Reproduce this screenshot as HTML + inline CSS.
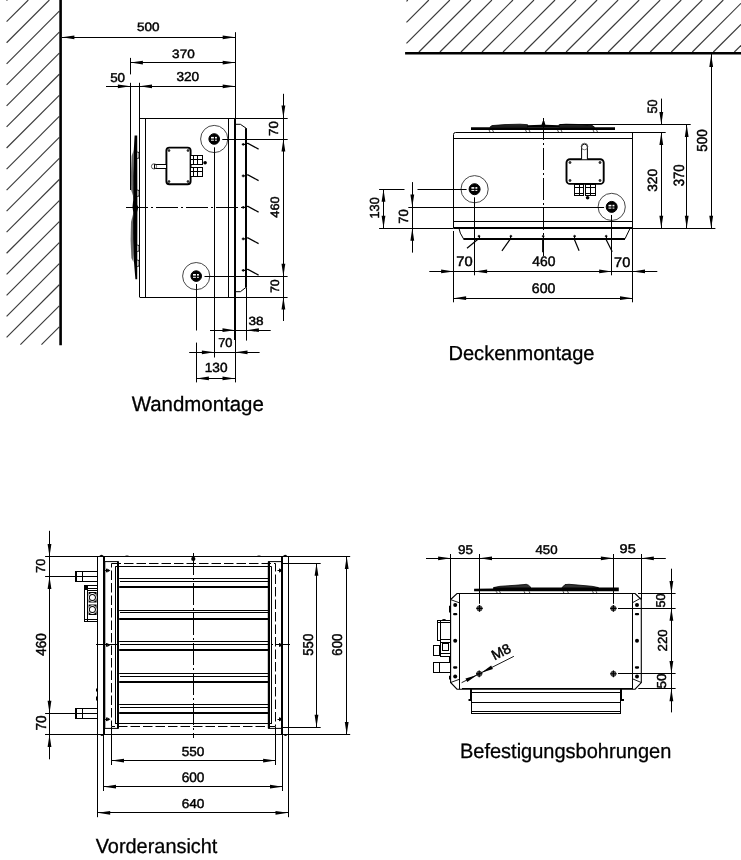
<!DOCTYPE html>
<html><head><meta charset="utf-8"><style>
html,body{margin:0;padding:0;background:#fff;}
svg{display:block;filter:grayscale(1);}
text{font-family:"Liberation Sans",sans-serif;text-rendering:geometricPrecision;}
</style></head><body>
<svg width="741" height="860" viewBox="0 0 741 860">
<rect width="741" height="860" fill="#fff"/>
<line x1="6.60" y1="0.65" x2="7.25" y2="0.00" stroke="#3a3a3a" stroke-width="1.15"/>
<line x1="6.60" y1="21.70" x2="28.30" y2="0.00" stroke="#3a3a3a" stroke-width="1.15"/>
<line x1="6.60" y1="42.75" x2="49.35" y2="0.00" stroke="#3a3a3a" stroke-width="1.15"/>
<line x1="6.60" y1="63.80" x2="59.30" y2="11.10" stroke="#3a3a3a" stroke-width="1.15"/>
<line x1="6.60" y1="84.85" x2="59.30" y2="32.15" stroke="#3a3a3a" stroke-width="1.15"/>
<line x1="6.60" y1="105.90" x2="59.30" y2="53.20" stroke="#3a3a3a" stroke-width="1.15"/>
<line x1="6.60" y1="126.95" x2="59.30" y2="74.25" stroke="#3a3a3a" stroke-width="1.15"/>
<line x1="6.60" y1="148.00" x2="59.30" y2="95.30" stroke="#3a3a3a" stroke-width="1.15"/>
<line x1="6.60" y1="169.05" x2="59.30" y2="116.35" stroke="#3a3a3a" stroke-width="1.15"/>
<line x1="6.60" y1="190.10" x2="59.30" y2="137.40" stroke="#3a3a3a" stroke-width="1.15"/>
<line x1="6.60" y1="211.15" x2="59.30" y2="158.45" stroke="#3a3a3a" stroke-width="1.15"/>
<line x1="6.60" y1="232.20" x2="59.30" y2="179.50" stroke="#3a3a3a" stroke-width="1.15"/>
<line x1="6.60" y1="253.25" x2="59.30" y2="200.55" stroke="#3a3a3a" stroke-width="1.15"/>
<line x1="6.60" y1="274.30" x2="59.30" y2="221.60" stroke="#3a3a3a" stroke-width="1.15"/>
<line x1="6.60" y1="295.35" x2="59.30" y2="242.65" stroke="#3a3a3a" stroke-width="1.15"/>
<line x1="6.60" y1="316.40" x2="59.30" y2="263.70" stroke="#3a3a3a" stroke-width="1.15"/>
<line x1="6.60" y1="337.45" x2="59.30" y2="284.75" stroke="#3a3a3a" stroke-width="1.15"/>
<line x1="20.40" y1="344.70" x2="59.30" y2="305.80" stroke="#3a3a3a" stroke-width="1.15"/>
<line x1="41.45" y1="344.70" x2="59.30" y2="326.85" stroke="#3a3a3a" stroke-width="1.15"/>
<line x1="60.60" y1="0.00" x2="60.60" y2="345.20" stroke="#000" stroke-width="2.6"/>
<line x1="61.90" y1="37.50" x2="235.20" y2="37.50" stroke="#000" stroke-width="1"/>
<path d="M61.90,37.30 L74.40,35.40 L74.40,39.20Z" fill="#000"/>
<path d="M235.20,37.30 L222.70,35.40 L222.70,39.20Z" fill="#000"/>
<text transform="translate(137.10,31.48) scale(1.1095,1)" font-size="12.16" fill="#000" stroke="#000" stroke-width="0.450">500</text>
<line x1="130.40" y1="62.50" x2="235.20" y2="62.50" stroke="#000" stroke-width="1"/>
<path d="M130.40,62.60 L142.90,60.70 L142.90,64.50Z" fill="#000"/>
<path d="M235.20,62.60 L222.70,60.70 L222.70,64.50Z" fill="#000"/>
<text transform="translate(172.11,57.50) scale(1.1201,1)" font-size="12.08" fill="#000" stroke="#000" stroke-width="0.450">370</text>
<line x1="106.00" y1="86.50" x2="235.20" y2="86.50" stroke="#000" stroke-width="1"/>
<path d="M130.40,86.30 L117.90,84.40 L117.90,88.20Z" fill="#000"/>
<path d="M139.50,86.30 L152.00,84.40 L152.00,88.20Z" fill="#000"/>
<path d="M235.20,86.30 L222.70,84.40 L222.70,88.20Z" fill="#000"/>
<text transform="translate(176.45,81.41) scale(1.0487,1)" font-size="13.00" fill="#000" stroke="#000" stroke-width="0.450">320</text>
<text transform="translate(110.13,81.85) scale(1.0452,1)" font-size="12.83" fill="#000" stroke="#000" stroke-width="0.450">50</text>
<line x1="139.50" y1="82.80" x2="139.50" y2="297.00" stroke="#000" stroke-width="1"/>
<line x1="235.50" y1="32.20" x2="235.50" y2="118.10" stroke="#000" stroke-width="1"/>
<line x1="139.60" y1="118.50" x2="287.70" y2="118.50" stroke="#000" stroke-width="1"/>
<line x1="139.60" y1="297.50" x2="287.60" y2="297.50" stroke="#000" stroke-width="1"/>
<line x1="145.50" y1="118.10" x2="145.50" y2="297.00" stroke="#000" stroke-width="1"/>
<line x1="228.50" y1="118.10" x2="228.50" y2="297.00" stroke="#000" stroke-width="1"/>
<line x1="235.00" y1="118.10" x2="235.00" y2="340.00" stroke="#000" stroke-width="2"/>
<line x1="235.50" y1="340.00" x2="235.50" y2="382.40" stroke="#000" stroke-width="1"/>
<path d="M235,124.3 L240.4,124.3 L246.1,128.2 L246.1,287.3 L240.4,291.7 L235,291.7" fill="none" stroke="#000" stroke-width="1.0"/>
<line x1="246.00" y1="128.20" x2="246.00" y2="287.30" stroke="#000" stroke-width="2"/>
<line x1="246.50" y1="287.30" x2="246.50" y2="340.60" stroke="#000" stroke-width="1"/>
<path d="M241.8,144.4 L246,144.4 M243.2,143.0 L243.2,145.8" fill="none" stroke="#000" stroke-width="1.1"/>
<path d="M246,143.5 L248,143.4 L258.6,149.1" fill="none" stroke="#000" stroke-width="1.2"/>
<path d="M241.8,175.9 L246,175.9 M243.2,174.5 L243.2,177.3" fill="none" stroke="#000" stroke-width="1.1"/>
<path d="M246,175.0 L248,174.9 L258.6,180.6" fill="none" stroke="#000" stroke-width="1.2"/>
<path d="M241.8,207.4 L246,207.4 M243.2,206.0 L243.2,208.8" fill="none" stroke="#000" stroke-width="1.1"/>
<path d="M246,206.5 L248,206.4 L258.6,212.1" fill="none" stroke="#000" stroke-width="1.2"/>
<path d="M241.8,238.9 L246,238.9 M243.2,237.5 L243.2,240.3" fill="none" stroke="#000" stroke-width="1.1"/>
<path d="M246,238.0 L248,237.9 L258.6,243.6" fill="none" stroke="#000" stroke-width="1.2"/>
<path d="M241.8,270.4 L246,270.4 M243.2,269.0 L243.2,271.79999999999995" fill="none" stroke="#000" stroke-width="1.1"/>
<path d="M246,269.5 L248,269.4 L258.6,275.09999999999997" fill="none" stroke="#000" stroke-width="1.2"/>
<line x1="126.00" y1="207.50" x2="245.50" y2="207.50" stroke="#000" stroke-width="1" stroke-dasharray="22 3 2 3"/>
<circle cx="214.20" cy="139.00" r="13.60" fill="none" stroke="#333" stroke-width="0.9"/>
<circle cx="214.20" cy="139.00" r="5.30" fill="#000" stroke="#000" stroke-width="1"/>
<rect x="211.00" y="136.90" width="2.90" height="1.60" rx="0" fill="#fff" stroke="none" stroke-width="0"/>
<rect x="215.00" y="136.90" width="1.90" height="1.60" rx="0" fill="#fff" stroke="none" stroke-width="0"/>
<rect x="211.00" y="139.70" width="2.90" height="1.00" rx="0" fill="#fff" stroke="none" stroke-width="0"/>
<rect x="215.00" y="139.70" width="1.90" height="1.00" rx="0" fill="#fff" stroke="none" stroke-width="0"/>
<circle cx="196.20" cy="276.10" r="13.60" fill="none" stroke="#333" stroke-width="0.9"/>
<circle cx="196.20" cy="276.10" r="5.30" fill="#000" stroke="#000" stroke-width="1"/>
<rect x="193.00" y="274.00" width="2.90" height="1.60" rx="0" fill="#fff" stroke="none" stroke-width="0"/>
<rect x="197.00" y="274.00" width="1.90" height="1.60" rx="0" fill="#fff" stroke="none" stroke-width="0"/>
<rect x="193.00" y="276.80" width="2.90" height="1.00" rx="0" fill="#fff" stroke="none" stroke-width="0"/>
<rect x="197.00" y="276.80" width="1.90" height="1.00" rx="0" fill="#fff" stroke="none" stroke-width="0"/>
<line x1="222.30" y1="139.50" x2="287.70" y2="139.50" stroke="#000" stroke-width="1"/>
<line x1="204.50" y1="276.50" x2="287.60" y2="276.50" stroke="#000" stroke-width="1"/>
<line x1="214.50" y1="147.30" x2="214.50" y2="357.50" stroke="#000" stroke-width="1"/>
<line x1="196.50" y1="284.00" x2="196.50" y2="330.50" stroke="#000" stroke-width="1"/>
<line x1="196.50" y1="342.60" x2="196.50" y2="382.40" stroke="#000" stroke-width="1"/>
<line x1="283.50" y1="93.80" x2="283.50" y2="321.00" stroke="#000" stroke-width="1"/>
<path d="M283.40,118.10 L281.50,105.60 L285.30,105.60Z" fill="#000"/>
<path d="M283.40,139.10 L281.50,151.60 L285.30,151.60Z" fill="#000"/>
<path d="M283.40,276.20 L281.50,263.70 L285.30,263.70Z" fill="#000"/>
<path d="M283.40,297.00 L281.50,309.50 L285.30,309.50Z" fill="#000"/>
<text transform="translate(277.50,135.98) rotate(-90) scale(1.0192,1)" font-size="13.05" fill="#000" stroke="#000" stroke-width="0.450">70</text>
<text transform="translate(278.65,217.66) rotate(-90) scale(1.0562,1)" font-size="12.13" fill="#000" stroke="#000" stroke-width="0.450">460</text>
<text transform="translate(278.66,293.11) rotate(-90) scale(1.0165,1)" font-size="12.16" fill="#000" stroke="#000" stroke-width="0.450">70</text>
<line x1="210.00" y1="330.50" x2="270.70" y2="330.50" stroke="#000" stroke-width="1"/>
<path d="M235.00,330.20 L222.50,328.30 L222.50,332.10Z" fill="#000"/>
<path d="M246.40,330.20 L258.90,328.30 L258.90,332.10Z" fill="#000"/>
<text transform="translate(248.41,324.82) scale(1.1471,1)" font-size="11.84" fill="#000" stroke="#000" stroke-width="0.450">38</text>
<line x1="189.20" y1="352.50" x2="259.60" y2="352.50" stroke="#000" stroke-width="1"/>
<path d="M214.40,352.30 L201.90,350.40 L201.90,354.20Z" fill="#000"/>
<path d="M235.00,352.30 L247.50,350.40 L247.50,354.20Z" fill="#000"/>
<text transform="translate(218.16,347.09) scale(0.9963,1)" font-size="12.90" fill="#000" stroke="#000" stroke-width="0.450">70</text>
<line x1="196.40" y1="378.50" x2="235.00" y2="378.50" stroke="#000" stroke-width="1"/>
<path d="M196.40,378.40 L208.90,376.50 L208.90,380.30Z" fill="#000"/>
<path d="M235.00,378.40 L222.50,376.50 L222.50,380.30Z" fill="#000"/>
<text transform="translate(204.77,372.24) scale(1.0408,1)" font-size="13.14" fill="#000" stroke="#000" stroke-width="0.450">130</text>
<text transform="translate(131.68,410.61) scale(0.9862,1)" font-size="20.72" fill="#000" stroke="#000" stroke-width="0.300">Wandmontage</text>
<rect x="166.40" y="147.60" width="24.20" height="36.60" rx="3" fill="#fff" stroke="#000" stroke-width="1.9"/>
<circle cx="169.00" cy="150.50" r="1.00" fill="#333" stroke="#000" stroke-width="0.6"/>
<circle cx="188.00" cy="150.50" r="1.00" fill="#333" stroke="#000" stroke-width="0.6"/>
<circle cx="169.00" cy="181.50" r="1.00" fill="#333" stroke="#000" stroke-width="0.6"/>
<circle cx="188.00" cy="181.50" r="1.00" fill="#333" stroke="#000" stroke-width="0.6"/>
<rect x="154.50" y="164.50" width="12.00" height="4.00" rx="0" fill="#fff" stroke="#000" stroke-width="1"/>
<circle cx="154.00" cy="166.40" r="2.60" fill="none" stroke="#333" stroke-width="0.8"/>
<rect x="190.50" y="155.50" width="12.00" height="9.00" rx="0" fill="#fff" stroke="#000" stroke-width="1"/>
<rect x="190.50" y="167.50" width="12.00" height="9.00" rx="0" fill="#fff" stroke="#000" stroke-width="1"/>
<line x1="193.50" y1="155.40" x2="193.50" y2="164.40" stroke="#000" stroke-width="1"/>
<line x1="197.50" y1="155.40" x2="197.50" y2="164.40" stroke="#000" stroke-width="1"/>
<line x1="190.80" y1="159.50" x2="202.30" y2="159.50" stroke="#000" stroke-width="1"/>
<line x1="193.50" y1="167.10" x2="193.50" y2="176.10" stroke="#000" stroke-width="1"/>
<line x1="197.50" y1="167.10" x2="197.50" y2="176.10" stroke="#000" stroke-width="1"/>
<line x1="190.80" y1="171.50" x2="202.30" y2="171.50" stroke="#000" stroke-width="1"/>
<circle cx="205.10" cy="162.70" r="1.80" fill="#000" stroke="#000" stroke-width="0"/>
<path d="M134.6,135.5 L137.2,135.5 L137.4,205 L138.3,207 L137.4,212 L137.2,279.2 L135.4,279.2 L133.4,255 L132.8,230 L133.2,212 L132.5,207 L133.2,200 L133.0,175 L133.8,150 Z" fill="#000"/>
<path d="M133.8,150 L131.6,156 L130.9,175 L131.1,190 L133.1,196 Z" fill="#666"/>
<path d="M133.1,214 L131.0,222 L130.6,240 L131.4,258 L133.4,262 Z" fill="#666"/>
<path d="M137.2,152 L139,152.5 L139,158 L137.2,158.5 M137.2,190 L139,190.5 L139,196 L137.2,196.5 M137.2,245 L139,245.5 L139,251 L137.2,251.5 M137.2,260 L139,260.5 L139,266 L137.2,266.5" fill="none" stroke="#000" stroke-width="0.9"/>
<line x1="130.50" y1="57.90" x2="130.50" y2="74.40" stroke="#000" stroke-width="1"/>
<line x1="130.50" y1="82.80" x2="130.50" y2="190.00" stroke="#000" stroke-width="1"/>
<line x1="406.50" y1="1.31" x2="407.81" y2="0.00" stroke="#3a3a3a" stroke-width="1.15"/>
<line x1="406.50" y1="22.34" x2="428.84" y2="0.00" stroke="#3a3a3a" stroke-width="1.15"/>
<line x1="406.50" y1="43.37" x2="449.87" y2="0.00" stroke="#3a3a3a" stroke-width="1.15"/>
<line x1="418.90" y1="52.00" x2="470.90" y2="0.00" stroke="#3a3a3a" stroke-width="1.15"/>
<line x1="439.93" y1="52.00" x2="491.93" y2="0.00" stroke="#3a3a3a" stroke-width="1.15"/>
<line x1="460.96" y1="52.00" x2="512.96" y2="0.00" stroke="#3a3a3a" stroke-width="1.15"/>
<line x1="481.99" y1="52.00" x2="533.99" y2="0.00" stroke="#3a3a3a" stroke-width="1.15"/>
<line x1="503.02" y1="52.00" x2="555.02" y2="0.00" stroke="#3a3a3a" stroke-width="1.15"/>
<line x1="524.05" y1="52.00" x2="576.05" y2="0.00" stroke="#3a3a3a" stroke-width="1.15"/>
<line x1="545.08" y1="52.00" x2="597.08" y2="0.00" stroke="#3a3a3a" stroke-width="1.15"/>
<line x1="566.11" y1="52.00" x2="618.11" y2="0.00" stroke="#3a3a3a" stroke-width="1.15"/>
<line x1="587.14" y1="52.00" x2="639.14" y2="0.00" stroke="#3a3a3a" stroke-width="1.15"/>
<line x1="608.17" y1="52.00" x2="660.17" y2="0.00" stroke="#3a3a3a" stroke-width="1.15"/>
<line x1="629.20" y1="52.00" x2="681.20" y2="0.00" stroke="#3a3a3a" stroke-width="1.15"/>
<line x1="650.23" y1="52.00" x2="702.23" y2="0.00" stroke="#3a3a3a" stroke-width="1.15"/>
<line x1="671.26" y1="52.00" x2="723.26" y2="0.00" stroke="#3a3a3a" stroke-width="1.15"/>
<line x1="692.29" y1="52.00" x2="741.00" y2="3.29" stroke="#3a3a3a" stroke-width="1.15"/>
<line x1="713.32" y1="52.00" x2="741.00" y2="24.32" stroke="#3a3a3a" stroke-width="1.15"/>
<line x1="734.35" y1="52.00" x2="741.00" y2="45.35" stroke="#3a3a3a" stroke-width="1.15"/>
<line x1="405.10" y1="53.30" x2="741.00" y2="53.30" stroke="#000" stroke-width="2.6"/>
<path d="M453.5,228 L453.5,134.5 Q453.5,132.5 455.5,132.5" fill="none" stroke="#000" stroke-width="1.0"/>
<line x1="455.50" y1="132.50" x2="665.70" y2="132.50" stroke="#000" stroke-width="1"/>
<line x1="632.50" y1="132.40" x2="632.50" y2="302.30" stroke="#000" stroke-width="1"/>
<line x1="453.60" y1="138.50" x2="632.50" y2="138.50" stroke="#000" stroke-width="1"/>
<line x1="453.60" y1="221.50" x2="632.50" y2="221.50" stroke="#000" stroke-width="1"/>
<line x1="379.10" y1="228.50" x2="453.50" y2="228.50" stroke="#000" stroke-width="1"/>
<line x1="453.50" y1="228.00" x2="632.50" y2="228.00" stroke="#000" stroke-width="2"/>
<line x1="632.50" y1="228.50" x2="715.40" y2="228.50" stroke="#000" stroke-width="1"/>
<path d="M471,127.3 L615,127.3 L615,129.9 L471,129.9 Z" fill="#000"/>
<path d="M527,125.2 L541.5,124.7 L542.8,121 L544.3,121 L545.4,124.7 L559,125.2 L559,127.4 L527,127.4 Z" fill="#000"/>
<path d="M489.8,127.3 L492,125.6 L505,124.6 L520,124.2 L527.6,124.7 L527.6,127.3 Z" fill="#222" stroke="#000" stroke-width="0.8"/>
<path d="M559,127.3 L559,124.7 L566,124.2 L582,124.6 L592.5,125.6 L594.6,127.3 Z" fill="#222" stroke="#000" stroke-width="0.8"/>
<path d="M489,129.9 L490,132 M492.5,129.9 L493.5,132 M525.5,129.9 L526.5,132 M529,129.9 L530,132 M557.5,129.9 L558.5,132 M561,129.9 L562,132 M593,129.9 L594,132 M596.5,129.9 L597.5,132" fill="none" stroke="#000" stroke-width="0.7"/>
<line x1="560.00" y1="124.50" x2="690.70" y2="124.50" stroke="#000" stroke-width="1"/>
<line x1="543.50" y1="118.00" x2="543.50" y2="256.00" stroke="#000" stroke-width="1" stroke-dasharray="22 3 2 3"/>
<circle cx="474.60" cy="189.20" r="13.60" fill="none" stroke="#333" stroke-width="0.9"/>
<circle cx="474.60" cy="189.20" r="5.50" fill="#000" stroke="#000" stroke-width="1"/>
<rect x="471.40" y="187.10" width="2.90" height="1.60" rx="0" fill="#fff" stroke="none" stroke-width="0"/>
<rect x="475.40" y="187.10" width="1.90" height="1.60" rx="0" fill="#fff" stroke="none" stroke-width="0"/>
<rect x="471.40" y="189.90" width="2.90" height="1.00" rx="0" fill="#fff" stroke="none" stroke-width="0"/>
<rect x="475.40" y="189.90" width="1.90" height="1.00" rx="0" fill="#fff" stroke="none" stroke-width="0"/>
<circle cx="611.70" cy="206.90" r="13.60" fill="none" stroke="#333" stroke-width="0.9"/>
<circle cx="611.70" cy="206.90" r="5.50" fill="#000" stroke="#000" stroke-width="1"/>
<rect x="608.50" y="204.80" width="2.90" height="1.60" rx="0" fill="#fff" stroke="none" stroke-width="0"/>
<rect x="612.50" y="204.80" width="1.90" height="1.60" rx="0" fill="#fff" stroke="none" stroke-width="0"/>
<rect x="608.50" y="207.60" width="2.90" height="1.00" rx="0" fill="#fff" stroke="none" stroke-width="0"/>
<rect x="612.50" y="207.60" width="1.90" height="1.00" rx="0" fill="#fff" stroke="none" stroke-width="0"/>
<line x1="379.10" y1="189.50" x2="404.50" y2="189.50" stroke="#000" stroke-width="1"/>
<line x1="417.50" y1="189.50" x2="466.60" y2="189.50" stroke="#000" stroke-width="1"/>
<line x1="408.30" y1="207.50" x2="604.10" y2="207.50" stroke="#000" stroke-width="1"/>
<line x1="383.50" y1="189.30" x2="383.50" y2="228.30" stroke="#000" stroke-width="1"/>
<path d="M383.50,189.30 L381.60,201.80 L385.40,201.80Z" fill="#000"/>
<path d="M383.50,228.30 L381.60,215.80 L385.40,215.80Z" fill="#000"/>
<line x1="412.50" y1="182.10" x2="412.50" y2="252.40" stroke="#000" stroke-width="1"/>
<path d="M412.30,207.10 L410.40,194.60 L414.20,194.60Z" fill="#000"/>
<line x1="412.50" y1="228.30" x2="412.50" y2="252.40" stroke="#000" stroke-width="1"/>
<path d="M412.30,228.30 L410.40,240.80 L414.20,240.80Z" fill="#000"/>
<text transform="translate(378.57,218.61) rotate(-90) scale(0.9758,1)" font-size="13.13" fill="#000" stroke="#000" stroke-width="0.450">130</text>
<text transform="translate(407.53,223.86) rotate(-90) scale(0.9866,1)" font-size="13.26" fill="#000" stroke="#000" stroke-width="0.450">70</text>
<line x1="711.50" y1="53.30" x2="711.50" y2="228.30" stroke="#000" stroke-width="1"/>
<path d="M711.20,54.60 L709.30,67.10 L713.10,67.10Z" fill="#000"/>
<path d="M711.20,228.30 L709.30,215.80 L713.10,215.80Z" fill="#000"/>
<line x1="686.50" y1="124.40" x2="686.50" y2="228.30" stroke="#000" stroke-width="1"/>
<path d="M686.70,124.40 L684.80,136.90 L688.60,136.90Z" fill="#000"/>
<path d="M686.70,228.30 L684.80,215.80 L688.60,215.80Z" fill="#000"/>
<line x1="661.50" y1="132.40" x2="661.50" y2="228.30" stroke="#000" stroke-width="1"/>
<path d="M661.30,132.40 L659.40,144.90 L663.20,144.90Z" fill="#000"/>
<path d="M661.30,228.30 L659.40,215.80 L663.20,215.80Z" fill="#000"/>
<line x1="661.50" y1="98.60" x2="661.50" y2="124.40" stroke="#000" stroke-width="1"/>
<path d="M661.30,124.40 L659.40,111.90 L663.20,111.90Z" fill="#000"/>
<text transform="translate(657.38,113.59) rotate(-90) scale(0.9553,1)" font-size="13.40" fill="#000" stroke="#000" stroke-width="0.450">50</text>
<text transform="translate(657.39,191.82) rotate(-90) scale(1.0376,1)" font-size="13.29" fill="#000" stroke="#000" stroke-width="0.450">320</text>
<text transform="translate(683.63,186.30) rotate(-90) scale(0.8836,1)" font-size="14.89" fill="#000" stroke="#000" stroke-width="0.450">370</text>
<text transform="translate(707.40,151.64) rotate(-90) scale(0.9280,1)" font-size="14.46" fill="#000" stroke="#000" stroke-width="0.450">500</text>
<path d="M458.8,227.7 Q459.5,233 463.5,238.8 L625.0,238.8 L630.4,227.7" fill="none" stroke="#000" stroke-width="1.0"/>
<line x1="463.50" y1="239.00" x2="625.00" y2="239.00" stroke="#000" stroke-width="2"/>
<circle cx="479.00" cy="236.20" r="1.00" fill="#000" stroke="#000" stroke-width="0.5"/>
<line x1="479.50" y1="236.20" x2="479.50" y2="238.80" stroke="#000" stroke-width="1"/>
<path d="M478.5,238.8 L467.0,248.3" fill="none" stroke="#000" stroke-width="1.2"/>
<circle cx="510.90" cy="236.20" r="1.00" fill="#000" stroke="#000" stroke-width="0.5"/>
<line x1="510.50" y1="236.20" x2="510.50" y2="238.80" stroke="#000" stroke-width="1"/>
<path d="M510.4,238.8 L501.9,250.8" fill="none" stroke="#000" stroke-width="1.2"/>
<circle cx="543.20" cy="236.20" r="1.00" fill="#000" stroke="#000" stroke-width="0.5"/>
<line x1="543.50" y1="236.20" x2="543.50" y2="238.80" stroke="#000" stroke-width="1"/>
<path d="M542.7,238.8 L542.7,252.3" fill="none" stroke="#000" stroke-width="1.2"/>
<circle cx="574.60" cy="236.20" r="1.00" fill="#000" stroke="#000" stroke-width="0.5"/>
<line x1="574.50" y1="236.20" x2="574.50" y2="238.80" stroke="#000" stroke-width="1"/>
<path d="M574.1,238.8 L579.1,250.8" fill="none" stroke="#000" stroke-width="1.2"/>
<circle cx="606.20" cy="236.20" r="1.00" fill="#000" stroke="#000" stroke-width="0.5"/>
<line x1="606.50" y1="236.20" x2="606.50" y2="238.80" stroke="#000" stroke-width="1"/>
<path d="M605.7,238.8 L612.2,251.8" fill="none" stroke="#000" stroke-width="1.2"/>
<line x1="474.50" y1="197.30" x2="474.50" y2="275.30" stroke="#000" stroke-width="1"/>
<line x1="611.50" y1="215.00" x2="611.50" y2="275.30" stroke="#000" stroke-width="1"/>
<line x1="453.50" y1="231.00" x2="453.50" y2="302.30" stroke="#000" stroke-width="1"/>
<line x1="429.30" y1="271.50" x2="657.30" y2="271.50" stroke="#000" stroke-width="1"/>
<path d="M453.60,271.40 L441.10,269.50 L441.10,273.30Z" fill="#000"/>
<path d="M474.60,271.40 L487.10,269.50 L487.10,273.30Z" fill="#000"/>
<path d="M611.70,271.40 L599.20,269.50 L599.20,273.30Z" fill="#000"/>
<path d="M632.50,271.40 L645.00,269.50 L645.00,273.30Z" fill="#000"/>
<text transform="translate(456.22,266.43) scale(1.0682,1)" font-size="13.78" fill="#000" stroke="#000" stroke-width="0.450">70</text>
<text transform="translate(532.32,266.43) scale(1.0035,1)" font-size="13.82" fill="#000" stroke="#000" stroke-width="0.450">460</text>
<text transform="translate(614.06,266.55) scale(1.0510,1)" font-size="13.85" fill="#000" stroke="#000" stroke-width="0.450">70</text>
<line x1="453.60" y1="298.50" x2="632.50" y2="298.50" stroke="#000" stroke-width="1"/>
<path d="M453.60,298.20 L466.10,296.30 L466.10,300.10Z" fill="#000"/>
<path d="M632.50,298.20 L620.00,296.30 L620.00,300.10Z" fill="#000"/>
<text transform="translate(531.87,293.45) scale(1.0193,1)" font-size="13.84" fill="#000" stroke="#000" stroke-width="0.450">600</text>
<text transform="translate(448.49,359.53) scale(0.9895,1)" font-size="20.27" fill="#000" stroke="#000" stroke-width="0.300">Deckenmontage</text>
<rect x="566.50" y="159.20" width="37.20" height="24.70" rx="3.5" fill="#fff" stroke="#000" stroke-width="1.9"/>
<circle cx="570.00" cy="162.50" r="1.10" fill="#444" stroke="#000" stroke-width="0.6"/>
<circle cx="600.00" cy="162.50" r="1.10" fill="#444" stroke="#000" stroke-width="0.6"/>
<circle cx="570.00" cy="180.50" r="1.10" fill="#444" stroke="#000" stroke-width="0.6"/>
<circle cx="600.00" cy="180.50" r="1.10" fill="#444" stroke="#000" stroke-width="0.6"/>
<path d="M581.6,159.2 L581.6,147 A2.9,2.9 0 0 1 587.4,147 L587.4,159.2" fill="#fff" stroke="#000" stroke-width="1.0"/>
<circle cx="584.50" cy="146.50" r="3.30" fill="none" stroke="#444" stroke-width="0.7"/>
<rect x="574.50" y="184.50" width="9.00" height="11.00" rx="0" fill="#fff" stroke="#000" stroke-width="1"/>
<rect x="585.50" y="184.50" width="10.00" height="11.00" rx="0" fill="#fff" stroke="#000" stroke-width="1"/>
<line x1="579.50" y1="184.60" x2="579.50" y2="195.40" stroke="#000" stroke-width="1"/>
<line x1="574.20" y1="187.50" x2="583.80" y2="187.50" stroke="#000" stroke-width="1"/>
<line x1="574.20" y1="193.50" x2="583.80" y2="193.50" stroke="#000" stroke-width="1"/>
<line x1="590.50" y1="184.60" x2="590.50" y2="195.40" stroke="#000" stroke-width="1"/>
<line x1="585.70" y1="187.50" x2="595.30" y2="187.50" stroke="#000" stroke-width="1"/>
<line x1="585.70" y1="193.50" x2="595.30" y2="193.50" stroke="#000" stroke-width="1"/>
<circle cx="587.60" cy="197.80" r="1.80" fill="#000" stroke="#000" stroke-width="0"/>
<line x1="49.50" y1="530.80" x2="49.50" y2="759.30" stroke="#000" stroke-width="1"/>
<line x1="45.10" y1="556.50" x2="98.00" y2="556.50" stroke="#000" stroke-width="1"/>
<line x1="45.10" y1="576.50" x2="97.50" y2="576.50" stroke="#000" stroke-width="1"/>
<line x1="45.10" y1="713.50" x2="97.50" y2="713.50" stroke="#000" stroke-width="1"/>
<line x1="45.10" y1="734.50" x2="98.00" y2="734.50" stroke="#000" stroke-width="1"/>
<path d="M49.50,556.50 L47.60,544.00 L51.40,544.00Z" fill="#000"/>
<path d="M49.50,576.40 L47.60,588.90 L51.40,588.90Z" fill="#000"/>
<path d="M49.50,713.30 L47.60,700.80 L51.40,700.80Z" fill="#000"/>
<path d="M49.50,734.40 L47.60,746.90 L51.40,746.90Z" fill="#000"/>
<text transform="translate(44.51,572.89) rotate(-90) scale(0.9890,1)" font-size="12.94" fill="#000" stroke="#000" stroke-width="0.450">70</text>
<text transform="translate(45.55,655.87) rotate(-90) scale(0.9335,1)" font-size="14.49" fill="#000" stroke="#000" stroke-width="0.450">460</text>
<text transform="translate(45.67,730.51) rotate(-90) scale(0.9450,1)" font-size="14.41" fill="#000" stroke="#000" stroke-width="0.450">70</text>
<rect x="75.50" y="571.50" width="22.00" height="10.00" rx="0" fill="#fff" stroke="#000" stroke-width="1"/>
<line x1="76.00" y1="571.60" x2="76.00" y2="581.30" stroke="#000" stroke-width="2"/>
<line x1="82.50" y1="571.60" x2="82.50" y2="581.30" stroke="#000" stroke-width="1"/>
<rect x="75.50" y="708.50" width="22.00" height="10.00" rx="0" fill="#fff" stroke="#000" stroke-width="1"/>
<line x1="76.00" y1="708.80" x2="76.00" y2="718.50" stroke="#000" stroke-width="2"/>
<line x1="82.50" y1="708.80" x2="82.50" y2="718.50" stroke="#000" stroke-width="1"/>
<line x1="73.70" y1="576.50" x2="97.50" y2="576.50" stroke="#000" stroke-width="1"/>
<line x1="73.70" y1="713.50" x2="97.50" y2="713.50" stroke="#000" stroke-width="1"/>
<rect x="84.50" y="585.50" width="13.00" height="36.00" rx="0" fill="#fff" stroke="#000" stroke-width="1"/>
<path d="M84.7,585 L88,585 L88,590 L84.7,590 Z" fill="#000"/>
<line x1="87.50" y1="590.00" x2="87.50" y2="621.60" stroke="#000" stroke-width="1"/>
<line x1="88.00" y1="588.50" x2="97.00" y2="588.50" stroke="#000" stroke-width="1"/>
<line x1="88.00" y1="590.50" x2="97.00" y2="590.50" stroke="#000" stroke-width="1"/>
<line x1="84.70" y1="619.50" x2="97.00" y2="619.50" stroke="#000" stroke-width="1"/>
<path d="M88.6,592 L96.6,592 L96.6,602.5 L88.6,602.5 Z" fill="#000"/>
<path d="M88.6,604.5 L96.6,604.5 L96.6,615 L88.6,615 Z" fill="#000"/>
<circle cx="92.40" cy="597.40" r="4.30" fill="#fff" stroke="none" stroke-width="0"/>
<circle cx="92.40" cy="597.40" r="3.50" fill="#000" stroke="none" stroke-width="0"/>
<circle cx="92.40" cy="597.40" r="2.50" fill="#fff" stroke="none" stroke-width="0"/>
<circle cx="92.40" cy="609.60" r="4.30" fill="#fff" stroke="none" stroke-width="0"/>
<circle cx="92.40" cy="609.60" r="3.50" fill="#000" stroke="none" stroke-width="0"/>
<circle cx="92.40" cy="609.60" r="2.50" fill="#fff" stroke="none" stroke-width="0"/>
<line x1="98.00" y1="556.50" x2="350.20" y2="556.50" stroke="#000" stroke-width="1"/>
<line x1="45.10" y1="734.50" x2="350.20" y2="734.50" stroke="#000" stroke-width="1"/>
<line x1="97.50" y1="556.50" x2="97.50" y2="817.20" stroke="#000" stroke-width="1"/>
<line x1="104.00" y1="556.50" x2="104.00" y2="734.40" stroke="#000" stroke-width="2"/>
<line x1="103.50" y1="734.40" x2="103.50" y2="791.00" stroke="#000" stroke-width="1"/>
<line x1="282.00" y1="556.50" x2="282.00" y2="734.40" stroke="#000" stroke-width="2"/>
<line x1="282.50" y1="734.40" x2="282.50" y2="791.00" stroke="#000" stroke-width="1"/>
<line x1="288.50" y1="556.50" x2="288.50" y2="817.20" stroke="#000" stroke-width="1"/>
<path d="M98.9,556.5 Q101.5,552.8 104.1,556.5 Z" fill="#000"/>
<path d="M282.59999999999997,556.5 Q285.2,552.8 287.8,556.5 Z" fill="#000"/>
<circle cx="193.30" cy="558.90" r="2.10" fill="#000" stroke="none" stroke-width="0"/>
<path d="M124,556.5 Q127,554.6 130,556.5 Z" fill="#000"/>
<path d="M256,556.5 Q259,554.6 262,556.5 Z" fill="#000"/>
<path d="M104.8,728.4 L104.8,561.6 L118.3,561.6 L118.3,728.4 Z" fill="none" stroke="#000" stroke-width="1.0"/>
<path d="M268.3,728.4 L268.3,561.6 L281.7,561.6 L281.7,728.4 Z" fill="none" stroke="#000" stroke-width="1.0"/>
<line x1="118.00" y1="561.60" x2="118.00" y2="728.40" stroke="#000" stroke-width="2"/>
<line x1="269.00" y1="561.60" x2="269.00" y2="728.40" stroke="#000" stroke-width="2"/>
<line x1="115.50" y1="566.30" x2="115.50" y2="724.00" stroke="#000" stroke-width="1"/>
<line x1="271.50" y1="566.30" x2="271.50" y2="724.00" stroke="#000" stroke-width="1"/>
<line x1="115.40" y1="566.50" x2="271.20" y2="566.50" stroke="#000" stroke-width="1"/>
<line x1="115.40" y1="723.50" x2="271.20" y2="723.50" stroke="#000" stroke-width="1"/>
<rect x="111.50" y="563.50" width="164.00" height="163.00" rx="0" fill="none" stroke="#000" stroke-width="1" stroke-dasharray="9.5 3"/>
<line x1="119.20" y1="578.50" x2="268.00" y2="578.50" stroke="#000" stroke-width="1"/>
<line x1="120.00" y1="581.50" x2="268.00" y2="581.50" stroke="#000" stroke-width="1"/>
<line x1="119.20" y1="587.00" x2="268.00" y2="587.00" stroke="#000" stroke-width="2"/>
<line x1="119.20" y1="610.50" x2="268.00" y2="610.50" stroke="#000" stroke-width="1"/>
<line x1="120.00" y1="612.50" x2="268.00" y2="612.50" stroke="#000" stroke-width="1"/>
<line x1="119.20" y1="619.00" x2="268.00" y2="619.00" stroke="#000" stroke-width="2"/>
<line x1="119.20" y1="641.50" x2="268.00" y2="641.50" stroke="#000" stroke-width="1"/>
<line x1="120.00" y1="644.50" x2="268.00" y2="644.50" stroke="#000" stroke-width="1"/>
<line x1="119.20" y1="650.00" x2="268.00" y2="650.00" stroke="#000" stroke-width="2"/>
<line x1="119.20" y1="673.50" x2="268.00" y2="673.50" stroke="#000" stroke-width="1"/>
<line x1="120.00" y1="676.50" x2="268.00" y2="676.50" stroke="#000" stroke-width="1"/>
<line x1="119.20" y1="682.00" x2="268.00" y2="682.00" stroke="#000" stroke-width="2"/>
<line x1="119.20" y1="704.50" x2="268.00" y2="704.50" stroke="#000" stroke-width="1"/>
<line x1="120.00" y1="707.50" x2="268.00" y2="707.50" stroke="#000" stroke-width="1"/>
<line x1="119.20" y1="713.00" x2="268.00" y2="713.00" stroke="#000" stroke-width="2"/>
<line x1="193.50" y1="553.00" x2="193.50" y2="738.00" stroke="#000" stroke-width="1" stroke-dasharray="22 3 2 3"/>
<line x1="96.00" y1="644.50" x2="290.00" y2="644.50" stroke="#000" stroke-width="1" stroke-dasharray="22 3 2 3"/>
<line x1="105.10" y1="570.50" x2="108.70" y2="570.50" stroke="#000" stroke-width="1"/>
<line x1="106.50" y1="568.70" x2="106.50" y2="572.30" stroke="#000" stroke-width="1"/>
<path d="M107.2,568.5 L110.4,570.5 L107.2,572.5 Z" fill="#000"/>
<line x1="105.10" y1="719.50" x2="108.70" y2="719.50" stroke="#000" stroke-width="1"/>
<line x1="106.50" y1="717.50" x2="106.50" y2="721.10" stroke="#000" stroke-width="1"/>
<path d="M107.2,717.3 L110.4,719.3 L107.2,721.3 Z" fill="#000"/>
<line x1="277.50" y1="570.50" x2="281.10" y2="570.50" stroke="#000" stroke-width="1"/>
<line x1="279.50" y1="568.70" x2="279.50" y2="572.30" stroke="#000" stroke-width="1"/>
<path d="M279.6,568.5 L282.8,570.5 L279.6,572.5 Z" fill="#000"/>
<line x1="277.50" y1="719.50" x2="281.10" y2="719.50" stroke="#000" stroke-width="1"/>
<line x1="279.50" y1="717.50" x2="279.50" y2="721.10" stroke="#000" stroke-width="1"/>
<path d="M279.6,717.3 L282.8,719.3 L279.6,721.3 Z" fill="#000"/>
<line x1="105.10" y1="644.50" x2="108.70" y2="644.50" stroke="#000" stroke-width="1"/>
<line x1="106.50" y1="643.10" x2="106.50" y2="646.70" stroke="#000" stroke-width="1"/>
<path d="M107.2,642.9 L110.4,644.9 L107.2,646.9 Z" fill="#000"/>
<line x1="277.50" y1="644.50" x2="281.10" y2="644.50" stroke="#000" stroke-width="1"/>
<line x1="279.50" y1="643.10" x2="279.50" y2="646.70" stroke="#000" stroke-width="1"/>
<path d="M279.6,642.9 L282.8,644.9 L279.6,646.9 Z" fill="#000"/>
<line x1="282.00" y1="563.50" x2="320.70" y2="563.50" stroke="#000" stroke-width="1"/>
<line x1="282.00" y1="727.50" x2="320.70" y2="727.50" stroke="#000" stroke-width="1"/>
<line x1="346.50" y1="556.50" x2="346.50" y2="734.40" stroke="#000" stroke-width="1"/>
<path d="M346.70,556.50 L344.80,569.00 L348.60,569.00Z" fill="#000"/>
<path d="M346.70,734.40 L344.80,721.90 L348.60,721.90Z" fill="#000"/>
<line x1="316.50" y1="563.30" x2="316.50" y2="727.20" stroke="#000" stroke-width="1"/>
<path d="M316.50,563.30 L314.60,575.80 L318.40,575.80Z" fill="#000"/>
<path d="M316.50,727.20 L314.60,714.70 L318.40,714.70Z" fill="#000"/>
<text transform="translate(312.55,655.67) rotate(-90) scale(0.9177,1)" font-size="14.27" fill="#000" stroke="#000" stroke-width="0.450">550</text>
<text transform="translate(342.38,655.63) rotate(-90) scale(0.9142,1)" font-size="14.29" fill="#000" stroke="#000" stroke-width="0.450">600</text>
<line x1="111.50" y1="727.00" x2="111.50" y2="765.00" stroke="#000" stroke-width="1"/>
<line x1="275.50" y1="727.00" x2="275.50" y2="765.00" stroke="#000" stroke-width="1"/>
<line x1="111.50" y1="760.50" x2="275.60" y2="760.50" stroke="#000" stroke-width="1"/>
<path d="M111.50,760.60 L124.00,758.70 L124.00,762.50Z" fill="#000"/>
<path d="M275.60,760.60 L263.10,758.70 L263.10,762.50Z" fill="#000"/>
<line x1="103.50" y1="786.50" x2="282.50" y2="786.50" stroke="#000" stroke-width="1"/>
<path d="M103.50,786.70 L116.00,784.80 L116.00,788.60Z" fill="#000"/>
<path d="M282.50,786.70 L270.00,784.80 L270.00,788.60Z" fill="#000"/>
<line x1="97.70" y1="812.50" x2="288.00" y2="812.50" stroke="#000" stroke-width="1"/>
<path d="M97.70,812.80 L110.20,810.90 L110.20,814.70Z" fill="#000"/>
<path d="M288.00,812.80 L275.50,810.90 L275.50,814.70Z" fill="#000"/>
<text transform="translate(181.66,755.53) scale(1.0441,1)" font-size="13.05" fill="#000" stroke="#000" stroke-width="0.450">550</text>
<text transform="translate(181.64,782.11) scale(0.9903,1)" font-size="13.81" fill="#000" stroke="#000" stroke-width="0.450">600</text>
<text transform="translate(181.65,808.47) scale(1.0565,1)" font-size="12.93" fill="#000" stroke="#000" stroke-width="0.450">640</text>
<text transform="translate(95.65,852.72) scale(0.9704,1)" font-size="20.53" fill="#000" stroke="#000" stroke-width="0.300">Vorderansicht</text>
<line x1="97.00" y1="688.50" x2="97.00" y2="691.50" stroke="#000" stroke-width="2"/>
<line x1="97.00" y1="696.50" x2="97.00" y2="700.50" stroke="#000" stroke-width="2"/>
<path d="M100,734.4 Q102,737.6 104,734.4 Z" fill="#000"/>
<path d="M283.5,734.4 Q285.5,737.6 287.5,734.4 Z" fill="#000"/>
<line x1="426.00" y1="558.50" x2="665.80" y2="558.50" stroke="#000" stroke-width="1"/>
<line x1="450.50" y1="554.00" x2="450.50" y2="599.60" stroke="#000" stroke-width="1"/>
<line x1="479.50" y1="554.00" x2="479.50" y2="603.80" stroke="#000" stroke-width="1"/>
<line x1="613.50" y1="554.00" x2="613.50" y2="603.80" stroke="#000" stroke-width="1"/>
<line x1="641.50" y1="554.00" x2="641.50" y2="599.60" stroke="#000" stroke-width="1"/>
<path d="M450.60,558.30 L438.10,556.40 L438.10,560.20Z" fill="#000"/>
<path d="M479.50,558.30 L492.00,556.40 L492.00,560.20Z" fill="#000"/>
<path d="M613.40,558.30 L600.90,556.40 L600.90,560.20Z" fill="#000"/>
<path d="M641.30,558.30 L653.80,556.40 L653.80,560.20Z" fill="#000"/>
<text transform="translate(457.95,553.50) scale(1.0546,1)" font-size="12.74" fill="#000" stroke="#000" stroke-width="0.450">95</text>
<text transform="translate(535.41,553.67) scale(1.0407,1)" font-size="12.72" fill="#000" stroke="#000" stroke-width="0.450">450</text>
<text transform="translate(619.60,553.38) scale(1.1443,1)" font-size="12.68" fill="#000" stroke="#000" stroke-width="0.450">95</text>
<path d="M474.1,588.8 L493,588.6 L493.5,587.6 L618.8,587.6 L618.8,591.2 L474.1,591.2 Z" fill="#000"/>
<path d="M493.5,587.6 L500,586.3 L515,585.3 L524,584.6 L526.2,584.3 L528.5,585.2 L531,587.6 Z" fill="#333" stroke="#000" stroke-width="0.8"/>
<path d="M562,587.6 L565,584.6 L569,584.3 L575,584.8 L592,586.3 L598.5,587.6 Z" fill="#333" stroke="#000" stroke-width="0.8"/>
<path d="M496,591.2 L497.5,593.3 M499.5,591.2 L500.5,593.3 M524,591.2 L525,593.3 M529,591.2 L530,593.3 M563,591.2 L564,593.3 M567.5,591.2 L568.5,593.3 M592.5,591.2 L593.5,593.3 M596,591.2 L597,593.3" fill="none" stroke="#000" stroke-width="0.7"/>
<path d="M457,593.5 L635.1,593.5 L641.3,599.6 L641.3,682.5 L635.1,689.2 L457,689.2 L450.6,682.5 L450.6,599.6 Z" fill="none" stroke="#000" stroke-width="1.1"/>
<line x1="459.50" y1="593.50" x2="459.50" y2="689.20" stroke="#000" stroke-width="1"/>
<line x1="632.50" y1="593.50" x2="632.50" y2="689.20" stroke="#000" stroke-width="1"/>
<line x1="450.60" y1="599.60" x2="459.40" y2="602.80" stroke="#000" stroke-width="0.9"/>
<line x1="450.60" y1="682.50" x2="459.40" y2="679.30" stroke="#000" stroke-width="0.9"/>
<line x1="632.70" y1="602.60" x2="641.30" y2="597.80" stroke="#000" stroke-width="0.9"/>
<line x1="632.70" y1="678.90" x2="641.30" y2="682.50" stroke="#000" stroke-width="0.9"/>
<line x1="450.00" y1="605.70" x2="450.00" y2="612.40" stroke="#000" stroke-width="2"/>
<line x1="450.00" y1="675.80" x2="450.00" y2="679.50" stroke="#000" stroke-width="2"/>
<circle cx="455.20" cy="605.10" r="2.00" fill="#000" stroke="none" stroke-width="0"/>
<circle cx="455.20" cy="640.70" r="2.00" fill="#000" stroke="none" stroke-width="0"/>
<circle cx="455.20" cy="676.60" r="2.00" fill="#000" stroke="none" stroke-width="0"/>
<path d="M454.2,614.2 L456.2,614.2" fill="none" stroke="#000" stroke-width="2.3" stroke-linecap="round"/>
<path d="M454.2,667.5 L456.2,667.5" fill="none" stroke="#000" stroke-width="2.3" stroke-linecap="round"/>
<circle cx="637.00" cy="605.10" r="2.00" fill="#000" stroke="none" stroke-width="0"/>
<circle cx="637.00" cy="640.70" r="2.00" fill="#000" stroke="none" stroke-width="0"/>
<circle cx="637.00" cy="676.60" r="2.00" fill="#000" stroke="none" stroke-width="0"/>
<path d="M636.0,614.2 L638.0,614.2" fill="none" stroke="#000" stroke-width="2.3" stroke-linecap="round"/>
<path d="M636.0,667.5 L638.0,667.5" fill="none" stroke="#000" stroke-width="2.3" stroke-linecap="round"/>
<circle cx="479.50" cy="608.40" r="2.70" fill="#555" stroke="none" stroke-width="0"/>
<circle cx="479.50" cy="608.40" r="2.70" fill="none" stroke="#222" stroke-width="0.6"/>
<path d="M476.3,608.4 L482.7,608.4 M479.5,605.0 L479.5,611.8" fill="none" stroke="#000" stroke-width="1.1"/>
<circle cx="613.40" cy="608.40" r="2.70" fill="#555" stroke="none" stroke-width="0"/>
<circle cx="613.40" cy="608.40" r="2.70" fill="none" stroke="#222" stroke-width="0.6"/>
<path d="M610.1999999999999,608.4 L616.6,608.4 M613.4,605.0 L613.4,611.8" fill="none" stroke="#000" stroke-width="1.1"/>
<circle cx="479.20" cy="673.80" r="2.70" fill="#555" stroke="none" stroke-width="0"/>
<circle cx="479.20" cy="673.80" r="2.70" fill="none" stroke="#222" stroke-width="0.6"/>
<path d="M476.0,673.8 L482.4,673.8 M479.2,670.4 L479.2,677.1999999999999" fill="none" stroke="#000" stroke-width="1.1"/>
<circle cx="613.40" cy="673.80" r="2.70" fill="#555" stroke="none" stroke-width="0"/>
<circle cx="613.40" cy="673.80" r="2.70" fill="none" stroke="#222" stroke-width="0.6"/>
<path d="M610.1999999999999,673.8 L616.6,673.8 M613.4,670.4 L613.4,677.1999999999999" fill="none" stroke="#000" stroke-width="1.1"/>
<line x1="638.00" y1="593.50" x2="675.60" y2="593.50" stroke="#000" stroke-width="1"/>
<line x1="618.00" y1="608.50" x2="675.60" y2="608.50" stroke="#000" stroke-width="1"/>
<line x1="618.00" y1="673.50" x2="675.60" y2="673.50" stroke="#000" stroke-width="1"/>
<line x1="638.30" y1="688.50" x2="675.60" y2="688.50" stroke="#000" stroke-width="1"/>
<line x1="671.50" y1="568.70" x2="671.50" y2="712.40" stroke="#000" stroke-width="1"/>
<path d="M671.40,593.50 L669.50,581.00 L673.30,581.00Z" fill="#000"/>
<path d="M671.40,608.30 L669.50,620.80 L673.30,620.80Z" fill="#000"/>
<path d="M671.40,673.60 L669.50,661.10 L673.30,661.10Z" fill="#000"/>
<path d="M671.40,688.80 L669.50,701.30 L673.30,701.30Z" fill="#000"/>
<text transform="translate(665.37,607.43) rotate(-90) scale(0.9881,1)" font-size="12.81" fill="#000" stroke="#000" stroke-width="0.450">50</text>
<text transform="translate(666.64,651.48) rotate(-90) scale(1.0147,1)" font-size="13.05" fill="#000" stroke="#000" stroke-width="0.450">220</text>
<text transform="translate(666.48,688.58) rotate(-90) scale(1.0380,1)" font-size="13.01" fill="#000" stroke="#000" stroke-width="0.450">50</text>
<line x1="462.00" y1="688.50" x2="632.00" y2="688.50" stroke="#000" stroke-width="1"/>
<rect x="471.50" y="688.50" width="149.00" height="25.00" rx="0" fill="none" stroke="#000" stroke-width="1"/>
<line x1="471.20" y1="692.50" x2="620.70" y2="692.50" stroke="#000" stroke-width="1"/>
<line x1="471.20" y1="702.50" x2="620.70" y2="702.50" stroke="#000" stroke-width="1"/>
<line x1="471.20" y1="711.50" x2="620.70" y2="711.50" stroke="#000" stroke-width="1"/>
<line x1="471.00" y1="688.50" x2="471.00" y2="700.40" stroke="#000" stroke-width="2"/>
<line x1="468.50" y1="700.00" x2="471.40" y2="700.00" stroke="#000" stroke-width="2"/>
<line x1="621.00" y1="688.50" x2="621.00" y2="700.40" stroke="#000" stroke-width="2"/>
<line x1="620.60" y1="700.00" x2="624.00" y2="700.00" stroke="#000" stroke-width="2"/>
<rect x="437.50" y="620.50" width="13.00" height="20.00" rx="0" fill="#fff" stroke="#000" stroke-width="1"/>
<line x1="440.50" y1="620.20" x2="440.50" y2="640.40" stroke="#000" stroke-width="1"/>
<line x1="437.20" y1="622.50" x2="450.00" y2="622.50" stroke="#000" stroke-width="1"/>
<path d="M441.5,620.2 Q444,617.6 446.5,620.2 Z" fill="#000"/>
<rect x="440.50" y="639.50" width="10.00" height="17.00" rx="0" fill="#fff" stroke="#000" stroke-width="1"/>
<rect x="442.50" y="643.50" width="6.00" height="7.00" rx="0" fill="none" stroke="#000" stroke-width="1"/>
<line x1="440.20" y1="642.50" x2="450.00" y2="642.50" stroke="#000" stroke-width="1"/>
<line x1="440.20" y1="653.50" x2="450.00" y2="653.50" stroke="#000" stroke-width="1"/>
<rect x="433.50" y="645.50" width="6.00" height="10.00" rx="0" fill="#fff" stroke="#000" stroke-width="1"/>
<rect x="433.50" y="662.50" width="17.00" height="10.00" rx="0" fill="#fff" stroke="#000" stroke-width="1"/>
<line x1="439.50" y1="662.40" x2="439.50" y2="672.10" stroke="#000" stroke-width="1"/>
<line x1="450.00" y1="656.30" x2="450.00" y2="662.40" stroke="#000" stroke-width="2"/>
<line x1="461.60" y1="682.70" x2="513.90" y2="656.30" stroke="#000" stroke-width="0.9"/>
<path d="M477.06,674.88 L467.25,682.08 L465.45,678.51 Z" fill="#000"/>
<path d="M481.34,672.72 L491.15,665.52 L492.95,669.09 Z" fill="#000"/>
<text transform="translate(494.4,660.6) rotate(-26.8) scale(1.0,1)" font-size="14.2" fill="#000" stroke="#000" stroke-width="0.45">M8</text>
<text transform="translate(459.92,758.47) scale(0.9671,1)" font-size="20.69" fill="#000" stroke="#000" stroke-width="0.300">Befestigungsbohrungen</text>
</svg></body></html>
